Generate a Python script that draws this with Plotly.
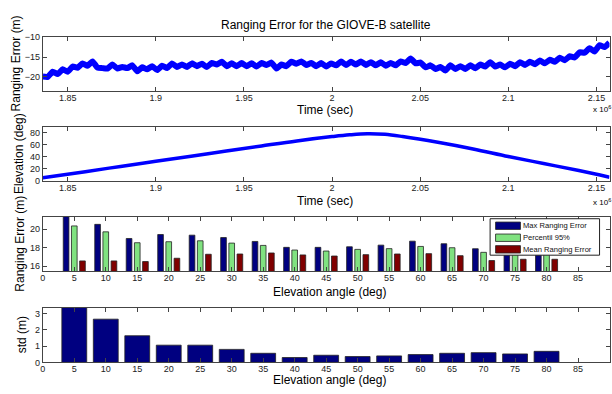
import numpy as np
import plotly.graph_objects as go

# ---------------- data ----------------
# Ranging error time series (time in units of 1e6 s), evenly sampled
T_START, T_END = 1.8359, 2.1574
ranging_err = [
    -19.9, -20.0, -18.7, -19.3, -18.1, -18.7, -17.4, -17.7, -16.6, -17.2,
    -16.1, -17.7, -17.8, -17.9, -16.9, -17.9, -17.5, -17.8, -17.1, -18.6,
    -17.6, -18.1, -17.3, -18.3, -17.2, -17.8, -16.6, -17.5, -16.9, -17.5,
    -16.6, -17.3, -16.7, -17.5, -16.5, -16.9, -16.2, -17.3, -16.6, -17.3,
    -16.5, -17.3, -16.6, -17.4, -16.5, -17.0, -16.4, -17.9, -16.9, -17.3,
    -16.2, -16.7, -16.1, -17.0, -16.5, -17.3, -16.5, -17.4, -16.6, -17.1,
    -16.1, -17.0, -16.2, -16.9, -16.1, -17.0, -16.3, -17.1, -16.3, -17.2,
    -16.5, -17.1, -16.1, -16.5, -15.4, -16.6, -16.4, -17.6, -17.1, -18.0,
    -17.5, -18.4, -17.1, -18.0, -17.3, -18.0, -17.1, -17.8, -16.9, -17.4,
    -16.3, -17.4, -16.9, -17.6, -16.7, -17.3, -16.3, -17.0, -16.2, -16.8,
    -15.9, -16.6, -15.7, -16.2, -15.2, -15.8, -14.8, -15.1, -13.8, -13.9,
    -12.8, -13.6, -12.0, -12.5, -11.4,
]
t_err = np.linspace(T_START, T_END, len(ranging_err))

# Elevation of the satellite
t_elev = [1.8359, 1.86, 1.88, 1.90, 1.92, 1.94, 1.96, 1.98, 2.00, 2.01, 2.02,
          2.03, 2.04, 2.06, 2.08, 2.10, 2.12, 2.14, 2.1574]
elevation = [5.4, 15.6, 24.2, 32.6, 41.0, 49.5, 58.0, 66.3, 73.4, 76.4, 78.2,
             77.2, 73.5, 64.0, 53.0, 40.5, 29.0, 17.5, 6.5]

# Statistics per elevation bin
angles = [5, 10, 15, 20, 25, 30, 35, 40, 45, 50, 55, 60, 65, 70, 75, 80]
max_err = [21.6, 20.53, 19.0, 19.43, 19.36, 19.1, 18.68, 18.04, 18.04, 18.1,
           18.28, 18.71, 18.43, 17.89, 18.0, 18.2]
pct95 = [20.36, 19.72, 18.54, 18.65, 18.75, 18.5, 18.25, 17.75, 17.64, 17.82,
         17.9, 18.14, 18.0, 17.5, 17.5, 17.6]
mean_err = [16.57, 16.57, 16.5, 16.86, 17.29, 17.32, 17.43, 17.22, 17.1, 17.25,
            17.32, 17.36, 17.14, 16.61, 16.75, 16.75]
std_err = [3.4, 2.66, 1.64, 1.06, 1.06, 0.8, 0.56, 0.3, 0.44, 0.36, 0.40, 0.48,
           0.56, 0.6, 0.52, 0.68]

time_ticks = [1.85, 1.9, 1.95, 2.0, 2.05, 2.1, 2.15]
time_ticktext = ["1.85", "1.9", "1.95", "2", "2.05", "2.1", "2.15"]
angle_ticks = list(range(0, 95, 5))
legend_names = ["Max Ranging Error", "Percentil 95%", "Mean Ranging Error"]

NAVY, GREEN, DRED = "#000080", "#80E280", "#800000"
W, H = 612, 394
px = lambda x: x / W
py = lambda y: 1 - y / H

fig = go.Figure()
fig.add_trace(go.Scatter(x=t_err, y=ranging_err, mode="lines", line_shape="spline",
                         line=dict(color="#0000FF", width=6, smoothing=0.4),
                         xaxis="x", yaxis="y", showlegend=False))
fig.add_trace(go.Scatter(x=t_elev, y=elevation, mode="lines", line_shape="spline",
                         line=dict(color="#0000FF", width=3.5), xaxis="x2", yaxis="y2",
                         showlegend=False))
edge = dict(color="#222222", width=0.8)
for vals, col, off in [(max_err, NAVY, -1.75), (pct95, GREEN, -0.45), (mean_err, DRED, 0.85)]:
    fig.add_trace(go.Bar(x=angles, y=vals, width=0.9, offset=off,
                         marker=dict(color=col, line=edge),
                         xaxis="x3", yaxis="y3", showlegend=False))
fig.add_trace(go.Bar(x=angles, y=std_err, width=3.95,
                     marker=dict(color=NAVY, line=edge),
                     xaxis="x4", yaxis="y4", showlegend=False))

tickfont = dict(family="Liberation Sans, Arial", size=9, color="#222")
common = dict(showline=True, linecolor="#444", linewidth=1, mirror="ticks",
              ticks="inside", ticklen=4, tickcolor="#444", showgrid=False,
              zeroline=False, tickfont=tickfont)
xcommon = dict(common, ticklabelstandoff=-2)

xdom = [px(40), px(609.5)]
doms = [(33, 88), (124.7, 180.7), (217.5, 273), (311, 366.7)]

layout = dict(
    width=W, height=H, margin=dict(l=0, r=0, t=0, b=0),
    paper_bgcolor="white", plot_bgcolor="white", barmode="overlay",
    showlegend=False,
    font=dict(family="Liberation Sans, Arial", color="black"),
)
layout["xaxis"] = dict(domain=xdom, range=[T_START, T_END], tickvals=time_ticks,
                       ticktext=time_ticktext, anchor="y", **xcommon)
layout["yaxis"] = dict(domain=[py(doms[0][1]), py(doms[0][0])], range=[-23.5, -10],
                       tickvals=[-20, -15, -10], anchor="x", **common)
layout["xaxis2"] = dict(domain=xdom, range=[T_START, T_END], tickvals=time_ticks,
                        ticktext=time_ticktext, anchor="y2", **xcommon)
layout["yaxis2"] = dict(domain=[py(doms[1][1]), py(doms[1][0])], range=[0, 90],
                        tickvals=[0, 20, 40, 60, 80], anchor="x2", **common)
layout["xaxis3"] = dict(domain=xdom, range=[0, 90], tickvals=angle_ticks, anchor="y3", **xcommon)
layout["yaxis3"] = dict(domain=[py(doms[2][1]), py(doms[2][0])], range=[15.47, 21.33],
                        tickvals=[16, 18, 20], anchor="x3", **common)
layout["xaxis4"] = dict(domain=xdom, range=[0, 90], tickvals=angle_ticks, anchor="y4", **xcommon)
layout["yaxis4"] = dict(domain=[py(doms[3][1]), py(doms[3][0])], range=[0, 3.34],
                        tickvals=[0, 1, 2, 3], anchor="x4", **common)
fig.update_layout(**layout)

ann = []
def text(x, y, s, size=12, angle=0, xa="center"):
    ann.append(dict(x=px(x), y=py(y), xref="paper", yref="paper", text=s, showarrow=False,
                    xanchor=xa, yanchor="middle", textangle=angle, borderpad=0,
                    font=dict(family="Liberation Sans, Arial", size=size, color="black")))

text(325, 20.5, "Ranging Error for the GIOVE-B satellite")
text(324, 107.5, "Time (sec)")
text(324, 201, "Time (sec)")
text(328, 294, "Elevation angle (deg)")
text(328, 384.5, "Elevation angle (deg)")
text(14, 60, "Ranging Error (m)", angle=-90)
text(16, 152, "Elevation (deg)", angle=-90)
text(17, 245, "Ranging Error (m)", angle=-90)
text(20, 338, "std (m)", angle=-90)
text(592, 107, "x 10<sup>6</sup>", size=8, xa="left")
text(592, 202, "x 10<sup>6</sup>", size=8, xa="left")

# legend box (drawn manually to mimic the wide patches)
shapes = [dict(type="rect", xref="paper", yref="paper", x0=px(489.5), x1=px(599.5),
               y0=py(256.7), y1=py(219.3), fillcolor="white",
               line=dict(color="#222", width=1), layer="above")]
for (name, col, yc) in zip(legend_names, [NAVY, GREEN, DRED], [226.5, 238.8, 250.7]):
    shapes.append(dict(type="rect", xref="paper", yref="paper", x0=px(495), x1=px(520),
                       y0=py(yc + 3.8), y1=py(yc - 3.8), fillcolor=col,
                       line=dict(color="#222", width=0.8), layer="above"))
    ann.append(dict(x=px(522), y=py(yc), xref="paper", yref="paper", text=name,
                    showarrow=False, xanchor="left", yanchor="middle", borderpad=0,
                    font=dict(family="Liberation Sans, Arial", size=7.6, color="#111")))
fig.update_layout(annotations=ann, shapes=shapes)

fig.write_html("out.html")
